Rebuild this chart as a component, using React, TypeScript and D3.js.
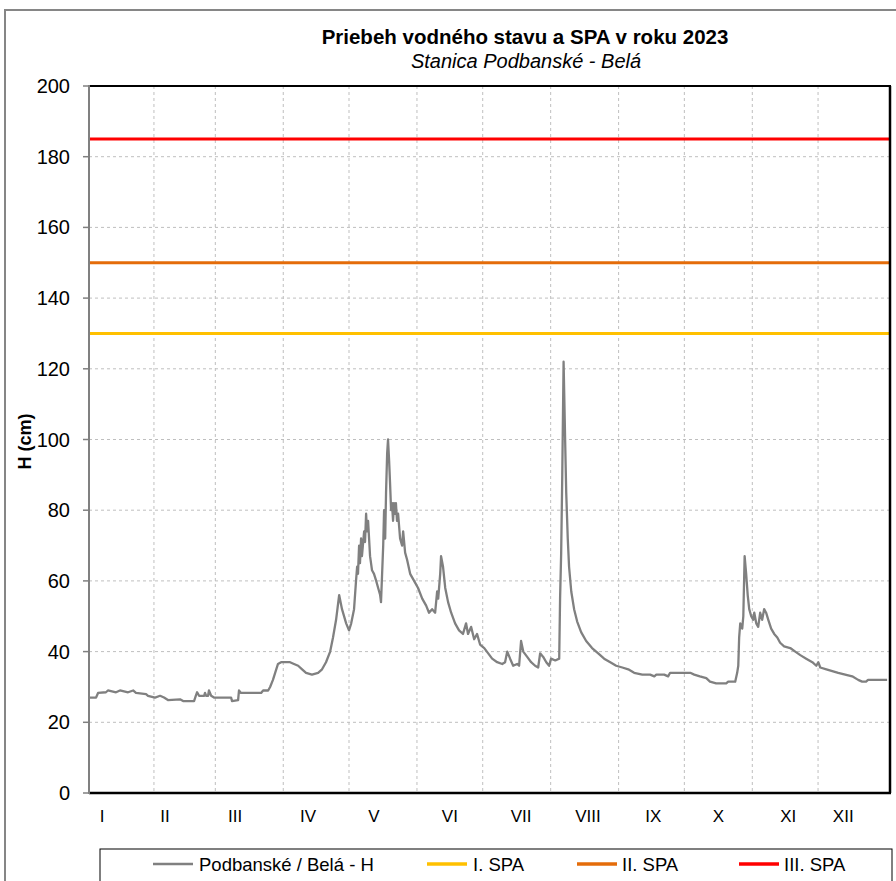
import React from "react";
import * as d3 from "d3";

// ---- data ----
const title = "Priebeh vodného stavu a SPA v roku 2023";
const subtitle = "Stanica Podbanské - Belá";
const yLabel = "H (cm)";
const monthLabels = ["I", "II", "III", "IV", "V", "VI", "VII", "VIII", "IX", "X", "XI", "XII"];
const monthLabelDays = [7.3, 36, 68, 101.3, 131.4, 166, 198.5, 229, 258.8, 288.5, 320.4, 345.5];
const monthStartDays = [31, 59, 90, 120, 151, 181, 212, 243, 273, 304, 334];
const yTicks = [0, 20, 40, 60, 80, 100, 120, 140, 160, 180, 200];

const seriesName = "Podbanské / Belá - H";
const dayOfYear = [
  1.4, 4.6, 5.5, 9.1, 10, 13.7, 15.5, 19.2, 21.5, 22.8, 27.4, 28.3, 31.5, 33.8, 35.6, 37.4, 42.9, 44.3, 49.3, 50.2,
  50.7, 51.6, 53.9, 54.3, 54.8, 55.7, 56.1, 57.1, 58.4, 66.2, 66.6, 69.4, 69.8, 70.7, 79.9, 80.8, 83.1, 84, 85.3, 86.3,
  87.6, 89, 93.1, 94.9, 96.8, 98.6, 100.4, 103.1, 105.9, 107.7, 109.5, 111.4, 112.7, 114.1, 115.5, 116.8, 118.7, 120, 121, 122.3,
  123.2, 123.7, 124.1, 124.6, 125, 125.5, 125.9, 126.9, 127.3, 127.8, 128.2, 128.7, 129.6, 130.5, 131.4, 132.4, 133.3, 134.2, 134.6, 135.6,
  136, 136.5, 136.9, 137.4, 137.8, 138.3, 138.7, 139.2, 139.6, 140.1, 140.5, 141, 141.4, 141.9, 142.4, 143.3, 144.2, 144.7, 145.6, 146.5,
  147.9, 149.7, 151.5, 153.4, 155.2, 156.5, 157.9, 159.3, 160.2, 160.7, 161.6, 162, 162.9, 163.9, 165.2, 166.6, 168.4, 170.2, 172, 173.4,
  174.3, 175.7, 177.1, 178.4, 179.8, 181.7, 183.5, 185.3, 187.6, 189.9, 191.2, 192.2, 193.5, 194.9, 196.7, 197.6, 198.5, 199.5, 201.3, 203.1,
  204.9, 206.3, 207.2, 208.6, 210, 211.3, 212.2, 214.1, 215.9, 216.3, 216.8, 217.3, 217.9, 218.6, 219.1, 219.8, 220.4, 221.4, 222.7, 224.1,
  225.9, 228.2, 230.9, 233.7, 236.4, 239.2, 241.9, 244.7, 247.4, 250.1, 253.8, 257.4, 259.3, 260.2, 263.8, 265.6, 266.5, 275.7, 277.5, 280.1,
  283, 284.7, 287.5, 292.1, 293, 296.2, 297.1, 297.6, 298, 298.5, 299.4, 299.9, 300.5, 301.2, 301.9, 302.6, 303.5, 304.4, 304.9, 305.8,
  306.7, 307.6, 308.5, 309.4, 310.3, 311.3, 312.6, 314, 315.4, 316.7, 318.5, 321.3, 323.6, 325.9, 328.6, 331.4, 333.2, 334.1, 335, 337.8,
  340.5, 343.2, 346.4, 349.6, 352.3, 354.1, 355.9, 356.8, 365.5,
];
const waterLevel = [
  27, 27, 28.3, 28.5, 29, 28.5, 29, 28.5, 29, 28.3, 28, 27.5, 27, 27.5, 27, 26.3, 26.5, 26, 26, 27.7,
  28.5, 27.5, 27.5, 28.3, 27.5, 27.5, 29, 27.5, 27, 27, 26, 26.3, 29, 28.3, 28.3, 29, 29, 30, 32, 34,
  36.5, 37, 37, 36.5, 36, 35, 34, 33.5, 34, 35, 37, 40, 44, 49, 56, 52, 48, 46, 48, 52,
  60, 64, 62, 70, 65, 72, 67, 74, 71, 79, 74, 77, 67, 63, 62, 60, 58, 56, 54, 70,
  80, 72, 85, 96, 100, 94, 88, 80, 82, 77, 82, 79, 82, 77, 79, 72, 70, 74, 68, 66,
  62, 60, 58, 55, 53, 51, 52, 51, 57, 55, 62, 67, 64, 58, 54, 51, 48, 46, 45, 48,
  45, 47, 43.5, 45, 42, 41, 39.5, 38, 37, 36.5, 37, 40, 38, 36, 36.5, 36, 43, 40, 38.5, 37,
  36, 35.5, 39.5, 38.5, 37, 36, 38, 37.5, 38, 55, 68, 90, 122, 100, 85, 72, 64, 57, 52, 48.5,
  45.5, 43, 41, 39.5, 38, 37, 36, 35.5, 35, 34, 33.5, 33.5, 33, 33.5, 33.5, 33, 34, 34, 33.5, 33,
  32.5, 31.5, 31, 31, 31.5, 31.5, 34, 36, 44, 48, 46.5, 50, 67, 62, 56, 52, 50, 49, 51, 48,
  47, 51, 49, 52, 51, 49, 46.5, 45, 44, 42.5, 41.5, 41, 40, 39, 38, 37, 36, 37, 35.5, 35,
  34.5, 34, 33.5, 33, 32, 31.5, 31.5, 32, 32,
];

const spaNames = ["I. SPA", "II. SPA", "III. SPA"];
const spaValues = [130, 150, 185];
const spaColors = ["#FFC000", "#E46C0A", "#FF0000"];
const seriesColor = "#808080";

// ---- layout ----
const W = 896;
const H = 881;
const plotLeft = 89;
const plotRight = 890;
const plotTop = 86;
const plotBottom = 793;
const FONT = "'Liberation Sans', Arial, sans-serif";

export default function App() {
  const x = d3.scaleLinear().domain([0, 365]).range([86, 886]);
  const y = d3.scaleLinear().domain([0, 200]).range([plotBottom, plotTop]);

  const points: [number, number][] = dayOfYear.map((d, i) => [d, waterLevel[i]]);
  const line = d3
    .line<[number, number]>()
    .x((d) => x(d[0]))
    .y((d) => y(d[1]));

  const legendItems = [
    { name: seriesName, color: seriesColor, width: 2.5, lx: 153, tx: 199 },
    { name: spaNames[0], color: spaColors[0], width: 3.5, lx: 427, tx: 473 },
    { name: spaNames[1], color: spaColors[1], width: 3.5, lx: 577, tx: 622 },
    { name: spaNames[2], color: spaColors[2], width: 3.5, lx: 739, tx: 784 },
  ];

  return (
    <svg
      width={W}
      height={H}
      style={{ position: "absolute", left: 0, top: 0, background: "#fff" }}
      fontFamily={FONT}
    >
      <rect x={0} y={0} width={W} height={H} fill="#fff" />
      {/* outer chart border */}
      <rect x={5} y={10} width={W + 10} height={H + 10} fill="none" stroke="#868686" strokeWidth={2} />

      {/* title */}
      <text x={525} y={44} textAnchor="middle" fontSize={20.5} fontWeight="bold" fill="#000">
        {title}
      </text>
      <text x={526} y={68} textAnchor="middle" fontSize={20} fontStyle="italic" fill="#000">
        {subtitle}
      </text>

      {/* grid */}
      {yTicks
        .filter((t) => t > 0 && t < 200)
        .map((t) => (
          <line
            key={"gy" + t}
            x1={plotLeft}
            x2={plotRight}
            y1={y(t)}
            y2={y(t)}
            stroke="#BFBFBF"
            strokeWidth={1}
            strokeDasharray="3,3"
          />
        ))}
      {monthStartDays.map((d) => (
        <line
          key={"gx" + d}
          x1={x(d)}
          x2={x(d)}
          y1={plotTop}
          y2={plotBottom}
          stroke="#BFBFBF"
          strokeWidth={1}
          strokeDasharray="3,3"
        />
      ))}

      {/* SPA lines */}
      {spaValues.map((v, i) => (
        <line
          key={"spa" + i}
          x1={plotLeft}
          x2={plotRight}
          y1={y(v)}
          y2={y(v)}
          stroke={spaColors[i]}
          strokeWidth={3}
        />
      ))}

      {/* series */}
      <path d={line(points) || ""} fill="none" stroke={seriesColor} strokeWidth={2.3} strokeLinejoin="round" />

      {/* plot frame */}
      <line x1={plotLeft} x2={plotRight + 1} y1={plotTop} y2={plotTop} stroke="#000" strokeWidth={2} />
      <line x1={plotRight} x2={plotRight} y1={plotTop} y2={plotBottom} stroke="#000" strokeWidth={2.5} />
      <line x1={plotLeft} x2={plotRight + 1} y1={plotBottom} y2={plotBottom} stroke="#000" strokeWidth={2.5} />
      <line x1={plotLeft} x2={plotLeft} y1={plotTop - 1} y2={plotBottom + 1} stroke="#808080" strokeWidth={2} />

      {/* y ticks */}
      {yTicks.map((t) => (
        <g key={"yt" + t}>
          <line x1={83} x2={plotLeft} y1={y(t)} y2={y(t)} stroke="#808080" strokeWidth={1.5} />
          <text x={70} y={y(t) + 7} textAnchor="end" fontSize={20} fill="#000">
            {t}
          </text>
        </g>
      ))}

      {/* y label */}
      <text
        transform={`translate(31,${(plotTop + plotBottom) / 2 + 2}) rotate(-90)`}
        textAnchor="middle"
        fontSize={18}
        fontWeight="bold"
        fill="#000"
      >
        {yLabel}
      </text>

      {/* month labels */}
      {monthLabels.map((m, i) => (
        <text key={m} x={x(monthLabelDays[i])} y={822} textAnchor="middle" fontSize={17} fill="#000">
          {m}
        </text>
      ))}

      {/* legend */}
      <rect x={100} y={849} width={792} height={45} fill="#fff" stroke="#000" strokeWidth={1} />
      {legendItems.map((it) => (
        <g key={it.name}>
          <line x1={it.lx} x2={it.lx + 40} y1={864} y2={864} stroke={it.color} strokeWidth={it.width} />
          <text x={it.tx} y={871} fontSize={18.5} fill="#000">
            {it.name}
          </text>
        </g>
      ))}
    </svg>
  );
}
